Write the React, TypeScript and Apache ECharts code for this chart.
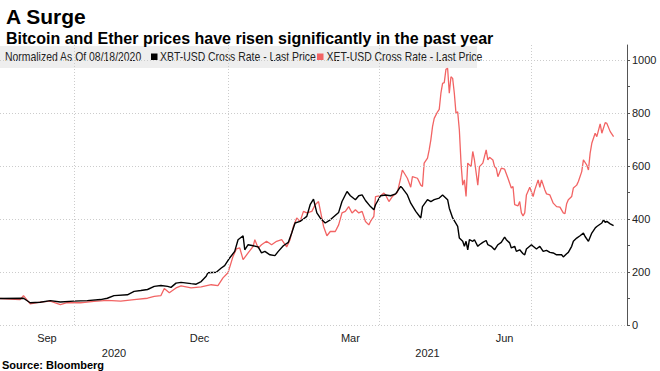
import React, { useEffect, useRef } from "react";
import * as echarts from "echarts";

// Bitcoin (XBT-USD), normalized to 100 on 2020-08-18
const xbtDates = [
  "2020-08-18","2020-09-01","2020-09-05","2020-09-11","2020-09-17","2020-09-23","2020-10-01","2020-10-09","2020-10-17","2020-10-21",
  "2020-10-25","2020-11-02","2020-11-06","2020-11-10","2020-11-14","2020-11-18","2020-11-22","2020-11-26","2020-11-28","2020-12-01",
  "2020-12-04","2020-12-10","2020-12-13","2020-12-16","2020-12-19","2020-12-20","2020-12-25","2020-12-28","2020-12-30","2021-01-02",
  "2021-01-05","2021-01-07","2021-01-10","2021-01-11","2021-01-13","2021-01-16","2021-01-19","2021-01-21","2021-01-23","2021-01-26",
  "2021-01-29","2021-01-31","2021-02-03","2021-02-06","2021-02-08","2021-02-10","2021-02-13","2021-02-15","2021-02-17","2021-02-19",
  "2021-02-21","2021-02-23","2021-02-25","2021-02-28","2021-03-03","2021-03-08","2021-03-10","2021-03-13","2021-03-15","2021-03-18",
  "2021-03-20","2021-03-22","2021-03-24","2021-03-27","2021-03-29","2021-03-30","2021-04-02","2021-04-05","2021-04-08","2021-04-11",
  "2021-04-14","2021-04-15","2021-04-18","2021-04-20","2021-04-23","2021-04-26","2021-04-27","2021-04-30","2021-05-02","2021-05-04",
  "2021-05-07","2021-05-09","2021-05-12","2021-05-13","2021-05-15","2021-05-18","2021-05-19","2021-05-21","2021-05-22","2021-05-23",
  "2021-05-24","2021-05-25","2021-05-27","2021-05-28","2021-05-30","2021-05-31","2021-06-02","2021-06-04","2021-06-05","2021-06-07",
  "2021-06-09","2021-06-11","2021-06-13","2021-06-15","2021-06-16","2021-06-18","2021-06-19","2021-06-21","2021-06-22","2021-06-24",
  "2021-06-26","2021-06-27","2021-06-28","2021-07-01","2021-07-02","2021-07-04","2021-07-06","2021-07-08","2021-07-10","2021-07-12",
  "2021-07-14","2021-07-16","2021-07-19","2021-07-20","2021-07-22","2021-07-23","2021-07-25","2021-07-26","2021-07-28","2021-07-30",
  "2021-08-01","2021-08-02","2021-08-04","2021-08-06","2021-08-08","2021-08-09","2021-08-12","2021-08-13","2021-08-14","2021-08-15",
  "2021-08-17","2021-08-19"
];
const xbtValues = [
  100,101,84,86,92,87,90,92,96,101,
  111,114,127,130,134,146,149,146,142,158,
  161,156,154,164,184,197,199,215,224,253,
  278,322,337,284,303,299,295,272,278,265,
  262,278,299,312,347,385,391,400,410,454,
  475,423,404,385,397,425,466,504,488,473,
  488,491,470,447,435,454,488,491,488,495,
  523,517,491,460,429,404,447,473,466,473,
  479,491,473,441,404,372,328,316,297,316,
  284,322,316,322,297,303,312,319,303,297,
  284,303,312,332,322,310,291,297,278,284,
  269,265,287,303,297,287,297,278,282,274,
  272,265,265,257,269,274,297,316,328,337,
  347,334,316,347,366,372,385,397,387,391,
  382,375
];

// Ether (XET-USD), normalized to 100 on 2020-08-18
const xetDates = [
  "2020-08-18","2020-08-30","2020-09-01","2020-09-05","2020-09-11","2020-09-17","2020-09-23","2020-09-27","2020-10-05","2020-10-13",
  "2020-10-21","2020-10-29","2020-11-06","2020-11-14","2020-11-18","2020-11-22","2020-11-24","2020-11-27","2020-12-01","2020-12-04",
  "2020-12-10","2020-12-16","2020-12-22","2020-12-26","2020-12-29","2021-01-01","2021-01-04","2021-01-06","2021-01-08","2021-01-10",
  "2021-01-13","2021-01-16","2021-01-17","2021-01-19","2021-01-21","2021-01-24","2021-01-27","2021-01-30","2021-02-02","2021-02-05",
  "2021-02-07","2021-02-09","2021-02-11","2021-02-13","2021-02-15","2021-02-17","2021-02-20","2021-02-22","2021-02-24","2021-02-25",
  "2021-02-27","2021-03-01","2021-03-03","2021-03-06","2021-03-08","2021-03-10","2021-03-12","2021-03-14","2021-03-16","2021-03-18",
  "2021-03-20","2021-03-22","2021-03-24","2021-03-26","2021-03-27","2021-03-29","2021-03-30","2021-04-02","2021-04-04","2021-04-05",
  "2021-04-07","2021-04-09","2021-04-12","2021-04-14","2021-04-15","2021-04-18","2021-04-20","2021-04-21","2021-04-24","2021-04-26",
  "2021-04-27","2021-04-28","2021-04-30","2021-05-01","2021-05-02","2021-05-03","2021-05-04","2021-05-06","2021-05-07","2021-05-08",
  "2021-05-09","2021-05-10","2021-05-11","2021-05-12","2021-05-13","2021-05-14","2021-05-15","2021-05-16","2021-05-17","2021-05-18",
  "2021-05-19","2021-05-20","2021-05-21","2021-05-22","2021-05-23","2021-05-24","2021-05-26","2021-05-27","2021-05-28","2021-05-30",
  "2021-05-31","2021-06-02","2021-06-04","2021-06-05","2021-06-06","2021-06-08","2021-06-09","2021-06-10","2021-06-11","2021-06-13",
  "2021-06-15","2021-06-17","2021-06-19","2021-06-20","2021-06-21","2021-06-23","2021-06-24","2021-06-25","2021-06-26","2021-06-27",
  "2021-06-28","2021-06-30","2021-07-02","2021-07-03","2021-07-05","2021-07-06","2021-07-07","2021-07-09","2021-07-10","2021-07-12",
  "2021-07-14","2021-07-16","2021-07-18","2021-07-20","2021-07-21","2021-07-22","2021-07-23","2021-07-25","2021-07-26","2021-07-28",
  "2021-07-29","2021-07-31","2021-08-01","2021-08-03","2021-08-04","2021-08-05","2021-08-06","2021-08-08","2021-08-09","2021-08-11",
  "2021-08-12","2021-08-14","2021-08-15","2021-08-17","2021-08-19"
];
const xetValues = [
  100,96,111,80,86,90,77,84,84,89,
  93,90,96,101,108,111,138,122,140,148,
  140,144,152,149,178,197,259,287,291,247,
  272,297,322,291,303,316,303,316,322,295,
  322,372,404,391,429,423,429,454,466,435,
  372,337,353,353,378,423,429,447,423,435,
  423,429,391,378,391,410,485,488,498,491,
  466,485,500,555,585,554,520,560,554,528,
  523,611,630,661,699,749,780,805,814,875,
  912,915,965,969,875,937,931,875,799,805,
  736,611,528,548,485,611,598,655,623,528,
  598,611,661,623,633,623,598,592,560,592,
  588,554,517,523,454,450,466,423,412,423,
  491,520,485,510,548,520,548,510,495,491,
  460,447,445,423,420,458,473,485,517,528,
  542,579,623,604,585,648,686,724,711,759,
  724,764,761,730,711
];

const seriesNames = ["XBT-USD Cross Rate - Last Price", "XET-USD Cross Rate - Last Price"];
const seriesColors = ["#000000", "#f26464"];
const legendNote = "Normalized As Of 08/18/2020";

const monthTickDates = ["2020-09-15", "2020-12-15", "2021-03-15", "2021-06-15"];
const monthTickLabels = ["Sep", "Dec", "Mar", "Jun"];
const yearTickDates = ["2020-10-25", "2021-04-30"];
const yearTickLabels = ["2020", "2021"];
const quarterGridDates = ["2020-10-01", "2021-01-01", "2021-04-01", "2021-07-01"];
const yLabelValues = [0, 200, 400, 600, 800, 1000];
const yTickValues = [0, 100, 200, 300, 400, 500, 600, 700, 800, 900, 1000];

const xMin = "2020-08-18";
const xMax = "2021-08-27";

const FONT = "'Liberation Sans','Arial',sans-serif";
const NARROW_SCALE = 0.87;

function ts(s: string): number {
  const [y, m, d] = s.split("-").map(Number);
  return Date.UTC(y, m - 1, d);
}

function labelFor(values: string[], labels: string[]) {
  const nums = values.map(ts);
  return (v: number) => {
    let best = 0;
    for (let i = 1; i < nums.length; i++) {
      if (Math.abs(nums[i] - v) < Math.abs(nums[best] - v)) best = i;
    }
    return labels[best];
  };
}

export default function App() {
  const ref = useRef<HTMLDivElement>(null);
  useEffect(() => {
    if (!ref.current) return;
    const chart = echarts.init(ref.current, null, { renderer: "svg" });
    const gridLineStyle = { color: "#cccccc", width: 1, type: [1, 2] as any };
    const axisText = { fontFamily: FONT, fontSize: 11, color: "#222" };
    const xAxisBase = {
      type: "value",
      min: ts(xMin),
      max: ts(xMax),
      axisLine: { show: false },
      axisTick: { show: false },
      splitLine: { show: false },
    };
    const legendText = (text: string, x: number) => ({
      type: "text",
      z: 5,
      x,
      y: 57,
      scaleX: NARROW_SCALE,
      style: { text, fontFamily: FONT, fontSize: 12, fill: "#222", textVerticalAlign: "middle" },
    });
    const legendSwatch = (color: string, x: number) => ({
      type: "rect",
      z: 5,
      shape: { x, y: 53.5, width: 6.5, height: 6.5 },
      style: { fill: color },
    });
    chart.setOption({
      animation: false,
      backgroundColor: "#ffffff",
      title: [
        {
          text: "A Surge",
          left: 1,
          top: 1,
          textStyle: { fontFamily: FONT, fontSize: 21, fontWeight: "bold", color: "#000" },
        },
        {
          text: "Bitcoin and Ether prices have risen significantly in the past year",
          left: 1,
          top: 25,
          textStyle: { fontFamily: FONT, fontSize: 16, fontWeight: "bold", color: "#000" },
        },
      ],
      graphic: [
        {
          type: "rect",
          z: 0,
          shape: { x: 0, y: 46, width: 477, height: 22 },
          style: { fill: "#eeeeee" },
          silent: true,
        },
        legendText(legendNote, 5),
        legendSwatch(seriesColors[0], 151),
        legendText(seriesNames[0], 160),
        legendSwatch(seriesColors[1], 317),
        legendText(seriesNames[1], 326.5),
        {
          type: "line",
          z: 5,
          shape: { x1: 627.5, y1: 45, x2: 627.5, y2: 60 },
          style: { stroke: "#555", lineWidth: 1 },
        },
        {
          type: "text",
          z: 5,
          left: 2,
          top: 359,
          style: { text: "Source: Bloomberg", fontFamily: FONT, fontSize: 11, fontWeight: "bold", fill: "#000" },
        },
      ],
      grid: { left: 0, right: 33, top: 45, bottom: 46 },
      xAxis: [
        {
          ...xAxisBase,
          axisLabel: {
            ...axisText,
            customValues: monthTickDates.map(ts),
            formatter: labelFor(monthTickDates, monthTickLabels),
            margin: 7,
            hideOverlap: false,
          },
        },
        {
          ...xAxisBase,
          position: "bottom",
          offset: 15,
          axisLabel: {
            ...axisText,
            customValues: yearTickDates.map(ts),
            formatter: labelFor(yearTickDates, yearTickLabels),
            margin: 7,
            hideOverlap: false,
          },
        },
      ],
      yAxis: {
        type: "value",
        position: "right",
        min: 0,
        max: 1057,
        splitLine: { show: false },
        axisLine: { show: true, lineStyle: { color: "#555", width: 1 } },
        axisTick: { show: true, inside: false, length: 3, customValues: yTickValues, lineStyle: { color: "#555" } },
        axisLabel: {
          ...axisText,
          customValues: yLabelValues,
          formatter: (v: number) => String(v),
          margin: 5,
        },
      },
      series: [
        {
          name: seriesNames[1],
          type: "line",
          showSymbol: false,
          symbol: "none",
          data: xetDates.map((d, i) => [ts(d), xetValues[i]]),
          lineStyle: { color: seriesColors[1], width: 1.3 },
          itemStyle: { color: seriesColors[1] },
          z: 3,
          markLine: {
            silent: true,
            symbol: ["none", "none"],
            label: { show: false },
            lineStyle: gridLineStyle,
            emphasis: { disabled: true },
            data: [
              ...quarterGridDates.map((d) => ({ xAxis: ts(d) })),
              ...yLabelValues.map((v) => ({ yAxis: v })),
            ],
          },
        },
        {
          name: seriesNames[0],
          type: "line",
          showSymbol: false,
          symbol: "none",
          data: xbtDates.map((d, i) => [ts(d), xbtValues[i]]),
          lineStyle: { color: seriesColors[0], width: 1.4 },
          itemStyle: { color: seriesColors[0] },
          z: 4,
        },
      ],
    });
    return () => chart.dispose();
  }, []);
  return (
    <div
      ref={ref}
      style={{ position: "fixed", left: 0, top: 0, width: 660, height: 371 }}
    />
  );
}
